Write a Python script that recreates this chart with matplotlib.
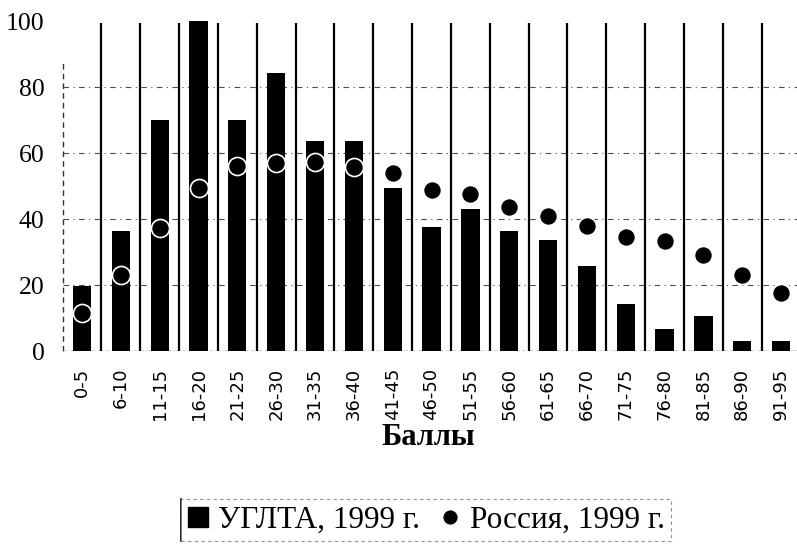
import matplotlib
matplotlib.use("Agg")
import matplotlib.pyplot as plt
from matplotlib.lines import Line2D
import numpy as np

categories = ["0-5", "6-10", "11-15", "16-20", "21-25", "26-30", "31-35", "36-40",
              "41-45", "46-50", "51-55", "56-60", "61-65", "66-70", "71-75", "76-80",
              "81-85", "86-90", "91-95"]
uglta = [19.7, 36.4, 70, 100, 70, 84.2, 63.6, 63.6, 49.3, 37.7, 42.9, 36.4, 33.6,
         25.9, 14.3, 6.7, 10.6, 3, 3]
russia = [11.5, 23, 37.2, 49.5, 56, 57, 57.2, 55.9, 53.8, 48.8, 47.6, 43.7, 40.8,
          38, 34.6, 33.2, 29.2, 23, 17.7]
yticks = [0, 20, 40, 60, 80, 100]
label_bars = "УГЛТА, 1999 г."
label_pts = "Россия, 1999 г."
xlabel = "Баллы"

W, H = 797, 548
fig = plt.figure(figsize=(W / 100, H / 100), dpi=100)
left, right, bottom, top = 62.6, 800.5, 351, 21
ax = fig.add_axes([left / W, 1 - bottom / H, (right - left) / W, (bottom - top) / H])

x = np.arange(len(categories))
ax.set_xlim(-0.5, len(categories) - 0.5)
ax.set_ylim(0, 100)

# grid lines
for yv in yticks[1:-1]:
    ax.axhline(yv, color="0.3", lw=0.8, ls=(0, (5, 4, 1, 4)), zorder=0)
ax.axhline(0, color="0.2", lw=1.0, ls=(0, (3, 2)), zorder=0)
# category separators
ax.vlines(x[:-1] + 0.5, 0, 99.3, color="black", lw=1.6, zorder=1)
# left dashed axis
ax.vlines([-0.5], 0, 87.6, color="0.2", lw=1.0, linestyles=[(0, (4, 3))], zorder=1, clip_on=False)

ax.bar(x, uglta, width=0.47, color="black", zorder=2)
ax.plot(x, russia, ls="none", marker="o", markersize=13, markerfacecolor="black",
        markeredgecolor="white", markeredgewidth=1.2, zorder=3)

for s in ax.spines.values():
    s.set_visible(False)

ax.set_yticks(yticks)
ax.set_yticklabels([str(v) for v in yticks], fontfamily="Liberation Serif", fontsize=18.5)
ax.tick_params(axis="y", length=0, pad=13)
ax.set_xticks(x)
ax.set_xticklabels(categories, rotation=90, fontfamily="DejaVu Sans", fontsize=13)
ax.tick_params(axis="x", length=0, pad=12)

fig.text(428 / W, 1 - 445 / H, xlabel, ha="center", va="baseline",
         fontfamily="Liberation Serif", fontweight="bold", fontsize=22)

handles = [
    Line2D([], [], ls="none", marker="s", markersize=15, color="black"),
    Line2D([], [], ls="none", marker="o", markersize=11, markerfacecolor="black",
           markeredgecolor="white", markeredgewidth=0.8),
]
leg = fig.legend(handles, [label_bars, label_pts], loc="center", ncol=2,
                 bbox_to_anchor=(426 / W, 1 - 520 / H),
                 prop={"family": "Liberation Serif", "size": 22.5},
                 frameon=True, fancybox=False, handlelength=0.7, handletextpad=0.3,
                 columnspacing=0.6, borderpad=0.2, borderaxespad=0)
fr = leg.get_frame()
fr.set_edgecolor("0.45")
fr.set_linewidth(0.8)
fr.set_linestyle((0, (3, 3)))

fig.canvas.draw()
bb = leg.get_window_extent().transformed(fig.transFigure.inverted())
fig.add_artist(Line2D([bb.x0, bb.x0], [bb.y0, bb.y1], transform=fig.transFigure,
                      color="black", lw=1.2))

fig.savefig("out.png", dpi=100)
